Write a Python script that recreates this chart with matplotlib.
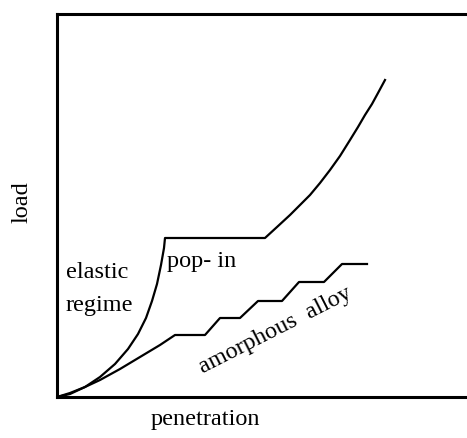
import numpy as np
import matplotlib
matplotlib.use("Agg")
import matplotlib.pyplot as plt

# penetration / load (arbitrary units)
elastic_h = [0, 13, 28, 43, 58, 71, 81, 89, 95, 100, 104, 107, 108]
elastic_p = [0, 3, 10, 20, 33, 48, 63, 79, 96, 113, 132, 149, 159]
popin_h = [108, 208]
popin_p = [159, 159]
reload_h = [208, 220, 233, 243, 253, 263, 273, 283, 293, 301, 308, 315, 321, 328]
reload_p = [159, 170, 182, 192, 202, 214, 227, 241, 257, 270, 282, 293, 304, 317]

alloy_h = [0, 13, 28, 43, 63, 83, 103, 118, 148, 163, 183, 201, 225, 242, 267, 285, 310]
alloy_p = [0, 4, 10, 17, 28, 40, 52, 62, 62, 79, 79, 96, 96, 115, 115, 133, 133]


def main():
    plt.rcParams['font.family'] = ['Liberation Serif', 'DejaVu Serif']
    fig = plt.figure(figsize=(4.67, 4.38), dpi=100)
    W, H = 467, 438
    ax = fig.add_axes([57 / W, 1 - 397 / H, 413 / W, 383 / H])

    h = np.concatenate([elastic_h, popin_h[1:], reload_h[1:]])
    p = np.concatenate([elastic_p, popin_p[1:], reload_p[1:]])
    ax.plot(h, p, color="black", lw=1.6)
    ax.plot(alloy_h, alloy_p, color="black", lw=1.6)

    ax.set_xlim(0, 413)
    ax.set_ylim(0, 383)
    ax.set_xticks([])
    ax.set_yticks([])
    for s in ax.spines.values():
        s.set_linewidth(2.2)
    ax.spines["right"].set_visible(False)

    fs = 17.5
    fig.text(205 / W, 1 - 420 / H, "penetration", ha="center", va="center", fontsize=fs)
    fig.text(22 / W, 1 - 202 / H, "load", ha="center", va="center", rotation=90, fontsize=fs)
    fig.text(66 / W, 1 - 272 / H, "elastic", ha="left", va="center", fontsize=fs)
    fig.text(66 / W, 1 - 306 / H, "regime", ha="left", va="center", fontsize=fs)
    fig.text(167 / W, 1 - 262 / H, "pop- in", ha="left", va="center", fontsize=fs)
    fig.text(275 / W, 1 - 330 / H, "amorphous  alloy", ha="center", va="center",
             rotation=27, fontsize=fs)

    plt.savefig("out.png", dpi=100)


if __name__ == "__main__":
    main()
